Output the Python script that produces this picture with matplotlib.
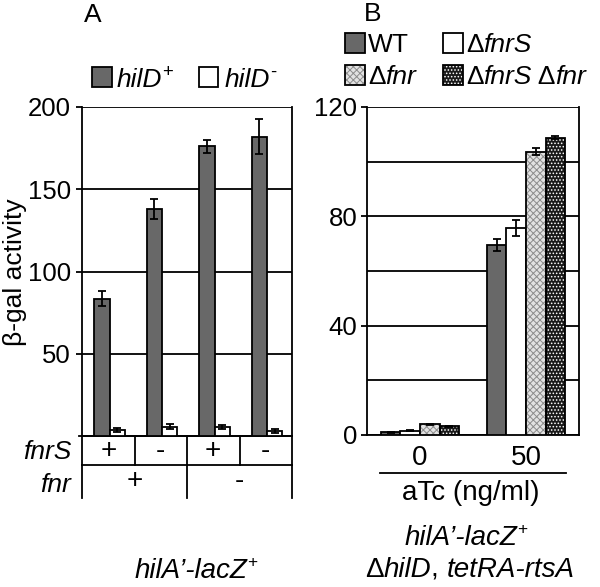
import matplotlib
matplotlib.use("Agg")
import matplotlib.pyplot as plt
from matplotlib.patches import Rectangle
from matplotlib.lines import Line2D
from matplotlib.transforms import IdentityTransform
import numpy as np

plt.rcParams['font.family'] = ['Liberation Sans', 'DejaVu Sans']
plt.rcParams['hatch.linewidth'] = 0.7

# ---------------- data ----------------
# Panel A
a_groups = ["1", "2", "3", "4"]
a_fnrS = ["+", "-", "+", "-"]
a_fnr = ["+", "-"]
a_hilD_plus = [83.5, 138, 176, 182]
a_hilD_plus_err = [4.5, 6, 4, 10.5]
a_hilD_minus = [3.5, 5.5, 5.5, 3.0]
a_hilD_minus_err = [1.2, 1.5, 1.3, 1.0]
a_yticks = [50, 100, 150, 200]

# Panel B
b_conc = ["0", "50"]
b_series = ["WT", "ΔfnrS", "Δfnr", "ΔfnrS Δfnr"]
b_WT = [1.0, 69.5]
b_WT_err = [0.2, 2.2]
b_dfnrS = [1.6, 75.7]
b_dfnrS_err = [0.2, 3.0]
b_dfnr = [4.0, 103.7]
b_dfnr_err = [0.2, 1.3]
b_double = [3.2, 108.8]
b_double_err = [0.2, 0.5]
b_yticks = [0, 40, 80, 120]
b_grid = [20, 60, 100]

W, H = 600, 587
fig = plt.figure(figsize=(W / 100, H / 100), dpi=100)
FS = 19
CFS = 20
TFS = 18.5
LW = 1.3


def ax_rect(l, t, r, b):
    return [l / W, 1 - b / H, (r - l) / W, (b - t) / H]


def fy(py):
    return H - py


renderer = fig.canvas.get_renderer()


def rich(x, y, parts, size=FS, ha='center', supscale=0.62):
    """parts: list of (text, italic, sup). x,y in image pixels (y from top)."""
    items = []
    total = 0
    for s, it, sup in parts:
        fs = size * supscale if sup else size
        t = fig.text(0, 0, s, fontsize=fs, style='italic' if it else 'normal',
                     transform=IdentityTransform(), va='baseline', ha='left')
        w = t.get_window_extent(renderer).width
        items.append((t, w, sup))
        total += w
    base = fy(y) - size * 0.716 * 100 / 72 / 2
    if ha == 'center':
        cx = x - total / 2
    elif ha == 'right':
        cx = x - total
    else:
        cx = x
    for t, w, sup in items:
        t.set_position((cx, base + (size * 0.40 * 100 / 72 if sup else 0)))
        cx += w


def errbars(ax, x, y, e):
    ax.errorbar(x, y, yerr=e, fmt='none', ecolor='black', elinewidth=LW,
                capsize=3, capthick=LW, zorder=5)


# ---------------- Panel A ----------------
axA = fig.add_axes(ax_rect(82, 107, 292, 436))
xa = np.arange(len(a_groups))
wA = 0.29
axA.bar(xa - 0.12, a_hilD_plus, wA, color='#686868', edgecolor='black', linewidth=LW, zorder=3)
axA.bar(xa + 0.17, a_hilD_minus, wA, color='white', edgecolor='black', linewidth=LW, zorder=3)
errbars(axA, xa - 0.12, a_hilD_plus, a_hilD_plus_err)
errbars(axA, xa + 0.17, a_hilD_minus, a_hilD_minus_err)
axA.set_xlim(-0.5, 3.5)
axA.set_ylim(0, 200)
axA.set_yticks(a_yticks)
axA.set_yticklabels([str(v) for v in a_yticks], fontsize=TFS)
axA.yaxis.grid(True, color='black', linewidth=LW, zorder=0)
axA.set_axisbelow(True)
axA.set_xticks([])
axA.tick_params(axis='y', length=4, width=LW, pad=4)
for s in axA.spines.values():
    s.set_linewidth(LW)
axA.spines['top'].set_visible(False)

# table under panel A
tr = axA.get_xaxis_transform()
row1 = -29 / 329
row2 = -62 / 329
axA.add_line(Line2D([-0.55, 3.5], [0, 0], transform=tr, color='black', lw=LW, clip_on=False))
axA.add_line(Line2D([-0.5, 3.5], [row1, row1], transform=tr, color='black', lw=LW, clip_on=False))
for xv in [-0.5, 0.5, 1.5, 2.5, 3.5]:
    axA.add_line(Line2D([xv, xv], [0, row1], transform=tr, color='black', lw=LW, clip_on=False))
for xv in [-0.5, 1.5, 3.5]:
    axA.add_line(Line2D([xv, xv], [row1, row2], transform=tr, color='black', lw=LW, clip_on=False))
for i, s in enumerate(a_fnrS):
    axA.text(xa[i], row1 / 2, s, transform=tr, ha='center', va='center', fontsize=FS + 1)
for i, s in enumerate(a_fnr):
    axA.text(0.5 + 2 * i, (row1 + row2) / 2, s, transform=tr, ha='center', va='center', fontsize=FS + 1)
rich(71, 450, [("fnrS", True, False)], ha='right')
rich(71, 483, [("fnr", True, False)], ha='right')

fig.text(15 / W, 1 - 272 / H, "β-gal activity", rotation=90, ha='center', va='center', fontsize=FS)
fig.text(93 / W, 1 - 15 / H, "A", ha='center', va='center', fontsize=FS)

# legend A
fig.patches.append(Rectangle((92, fy(87)), 20, 20, transform=IdentityTransform(),
                             facecolor='#686868', edgecolor='black', linewidth=LW, figure=fig))
rich(117, 78, [("hilD", True, False), ("+", False, True)], ha='left', supscale=0.7)
fig.patches.append(Rectangle((199, fy(87)), 19, 20, transform=IdentityTransform(),
                             facecolor='white', edgecolor='black', linewidth=LW, figure=fig))
rich(225, 78, [("hilD", True, False), ("-", False, True)], ha='left', supscale=0.7)

rich(196, 568, [("hilA’-lacZ", True, False), ("+", False, True)], size=CFS)

# ---------------- Panel B ----------------
axB = fig.add_axes(ax_rect(367, 107, 579, 435))
xb = np.arange(len(b_conc))
wB = 0.184
styles = [
    dict(face='#686868', hatch=None, hc=None),
    dict(face='white', hatch=None, hc=None),
    dict(face='#e2e2e2', hatch='xxxxx', hc='#8c8c8c'),
    dict(face='#1a1a1a', hatch='.....', hc='white'),
]
vals = [b_WT, b_dfnrS, b_dfnr, b_double]
errs = [b_WT_err, b_dfnrS_err, b_dfnr_err, b_double_err]
for k in range(4):
    pos = xb + (k - 1.5) * wB
    st = styles[k]
    if st['hatch']:
        axB.bar(pos, vals[k], wB, color=st['face'], edgecolor=st['hc'], hatch=st['hatch'],
                linewidth=0, zorder=3)
        axB.bar(pos, vals[k], wB, fill=False, edgecolor='black', linewidth=LW, zorder=4)
    else:
        axB.bar(pos, vals[k], wB, color=st['face'], edgecolor='black', linewidth=LW, zorder=3)
    errbars(axB, pos, vals[k], errs[k])
axB.set_xlim(-0.5, 1.5)
axB.set_ylim(0, 120)
axB.set_yticks(b_yticks)
axB.set_yticklabels([str(v) for v in b_yticks], fontsize=TFS)
axB.set_yticks(b_grid, minor=True)
axB.yaxis.grid(True, which='both', color='black', linewidth=LW, zorder=0)
axB.set_axisbelow(True)
axB.tick_params(axis='y', which='major', length=4, width=LW, pad=3)
axB.tick_params(axis='y', which='minor', length=0)
axB.set_xticks(xb)
axB.set_xticklabels(b_conc, fontsize=CFS)
axB.tick_params(axis='x', length=0, pad=7)
for s in axB.spines.values():
    s.set_linewidth(LW)
axB.spines['top'].set_visible(False)

fig.add_artist(Line2D([380 / W, 566 / W], [1 - 473 / H, 1 - 473 / H], color='black', lw=LW))
fig.text(471 / W, 1 - 493 / H, "aTc (ng/ml)", ha='center', va='center', fontsize=CFS)
rich(466, 535, [("hilA’-lacZ", True, False), ("+", False, True)], size=CFS)
rich(470, 567, [("Δ", False, False), ("hilD", True, False), (", ", False, False),
                ("tetRA-rtsA", True, False)], size=CFS)
fig.text(373 / W, 1 - 14 / H, "B", ha='center', va='center', fontsize=FS)

# legend B
leg_pos = [(345, 43), (443, 43), (345, 75), (443, 75)]
leg_txt = [
    [("WT", False, False)],
    [("Δ", False, False), ("fnrS", True, False)],
    [("Δ", False, False), ("fnr", True, False)],
    [("Δ", False, False), ("fnrS", True, False), (" Δ", False, False), ("fnr", True, False)],
]
for k in range(4):
    x0, yc = leg_pos[k]
    st = styles[k]
    if st['hatch']:
        fig.patches.append(Rectangle((x0, fy(yc + 10)), 20, 20, transform=IdentityTransform(),
                                     facecolor=st['face'], edgecolor=st['hc'], hatch=st['hatch'],
                                     linewidth=0, figure=fig))
        fig.patches.append(Rectangle((x0, fy(yc + 10)), 20, 20, transform=IdentityTransform(),
                                     fill=False, edgecolor='black', linewidth=LW, figure=fig))
    else:
        fig.patches.append(Rectangle((x0, fy(yc + 10)), 20, 20, transform=IdentityTransform(),
                                     facecolor=st['face'], edgecolor='black', linewidth=LW, figure=fig))
    rich(x0 + 23, yc, leg_txt[k], ha='left')

fig.savefig("out.png", dpi=100)
